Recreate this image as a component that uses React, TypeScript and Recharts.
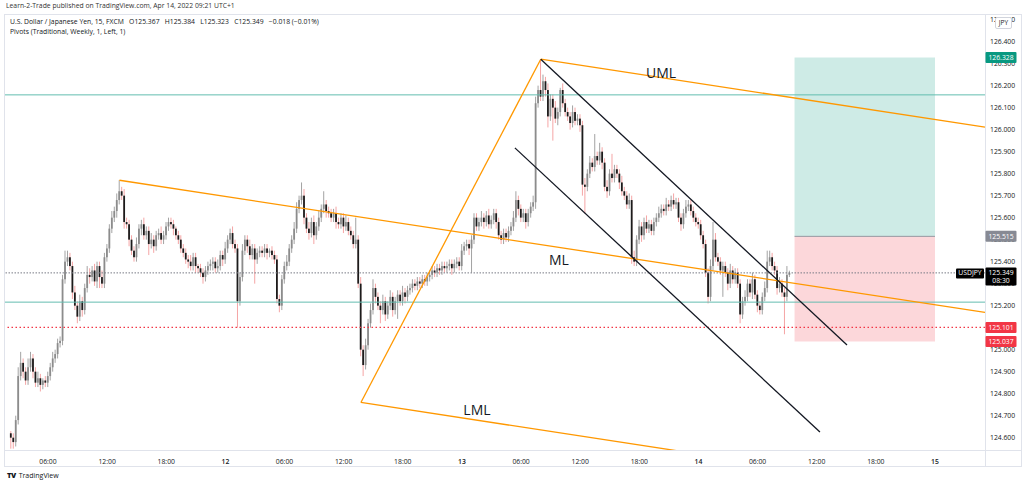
import {
  ComposedChart, Bar, XAxis, YAxis, ReferenceLine, ReferenceArea, ReferenceDot,
} from 'recharts';

// 15-minute USDJPY bars, bar index 0 = Apr 11 00:00, first drawn bar = 9
const FIRST_BAR = 9;
const FIRST_OPEN = 124.62;

const closes = [
  124.60, 124.58, 124.68, 124.88, 124.94, 124.90, 124.86, 124.92, 124.96, 124.90,
  124.85, 124.87, 124.84, 124.86, 124.85, 124.88, 124.92, 124.96, 124.98, 125.03,
  125.04, 125.32, 125.40, 125.42, 125.38, 125.26, 125.20, 125.15, 125.22, 125.18,
  125.28, 125.34, 125.33, 125.36, 125.31, 125.38, 125.33, 125.30, 125.42, 125.46,
  125.55, 125.60, 125.63, 125.68, 125.72, 125.70, 125.58, 125.57, 125.50, 125.45,
  125.42, 125.48, 125.55, 125.57, 125.52, 125.54, 125.48, 125.50, 125.47, 125.52,
  125.53, 125.50, 125.52, 125.56, 125.58, 125.57, 125.55, 125.52, 125.50, 125.46,
  125.44, 125.41, 125.40, 125.38, 125.42, 125.38, 125.37, 125.35, 125.33, 125.36,
  125.38, 125.39, 125.40, 125.37, 125.38, 125.43, 125.41, 125.46, 125.50, 125.53,
  125.48, 125.46, 125.22, 125.33, 125.45, 125.50, 125.47, 125.43, 125.46, 125.41,
  125.44, 125.45, 125.44, 125.46, 125.44, 125.45, 125.43, 125.41, 125.23, 125.20,
  125.32, 125.38, 125.40, 125.46, 125.50, 125.55, 125.64, 125.68, 125.70, 125.60,
  125.55, 125.53, 125.58, 125.52, 125.56, 125.60, 125.64, 125.66, 125.63, 125.62,
  125.60, 125.62, 125.58, 125.57, 125.60, 125.56, 125.58, 125.54, 125.52, 125.48,
  125.50, 125.30, 125.00, 124.93, 125.02, 125.12, 125.18, 125.28, 125.24, 125.20,
  125.18, 125.22, 125.16, 125.20, 125.24, 125.18, 125.22, 125.25, 125.22, 125.26,
  125.24, 125.27, 125.28, 125.30, 125.29, 125.31, 125.30, 125.32, 125.31, 125.33,
  125.34, 125.36, 125.35, 125.37, 125.36, 125.38, 125.37, 125.38, 125.39, 125.37,
  125.39, 125.40, 125.38, 125.45, 125.47, 125.48, 125.46, 125.50, 125.60, 125.56,
  125.58, 125.60, 125.58, 125.61, 125.57, 125.59, 125.62, 125.58, 125.52, 125.50,
  125.53, 125.51, 125.54, 125.56, 125.60, 125.68, 125.64, 125.60, 125.62, 125.58,
  125.62, 125.65, 125.67, 126.12, 126.18, 126.15, 126.22, 126.18, 126.06, 126.14,
  126.10, 126.05, 126.08, 126.18, 126.12, 126.08, 126.06, 126.03, 126.08, 126.04,
  126.05, 126.02, 125.75, 125.74, 125.80, 125.85, 125.83, 125.88, 125.86, 125.90,
  125.85, 125.74, 125.72, 125.80, 125.78, 125.82, 125.80, 125.76, 125.72, 125.70,
  125.66, 125.68, 125.42, 125.40, 125.50, 125.56, 125.52, 125.58, 125.55, 125.57,
  125.54, 125.58, 125.60, 125.62, 125.64, 125.63, 125.66, 125.65, 125.68, 125.66,
  125.67, 125.60, 125.57, 125.62, 125.65, 125.66, 125.63, 125.60, 125.58, 125.57,
  125.52, 125.48, 125.35, 125.24, 125.38, 125.50, 125.42, 125.40, 125.36, 125.38,
  125.35, 125.30, 125.36, 125.32, 125.35, 125.30, 125.16, 125.22, 125.24, 125.30,
  125.26, 125.32, 125.25, 125.20, 125.18, 125.24, 125.28, 125.40, 125.42, 125.38,
  125.36, 125.28, 125.30, 125.26, 125.24, 125.34, 125.349,
];

// wick lengths in pips (0.01) above the body / below the body
const wickUp = [
  1, 2, 2, 4, 5, 2, 2, 4, 3, 2,
  2, 3, 2, 1, 2, 2, 2, 3, 2, 2,
  2, 2, 5, 3, 2, 2, 3, 2, 3, 2,
  2, 4, 3, 2, 3, 2, 2, 3, 2, 2,
  2, 3, 2, 3, 5, 2, 3, 2, 2, 2,
  2, 3, 2, 2, 3, 2, 2, 3, 2, 2,
  2, 3, 2, 2, 2, 2, 2, 1, 2, 2,
  2, 2, 2, 3, 2, 2, 1, 2, 2, 2,
  2, 2, 2, 2, 3, 2, 2, 3, 2, 2,
  3, 2, 2, 2, 3, 2, 2, 3, 2, 2,
  2, 2, 2, 2, 2, 1, 2, 2, 2, 2,
  2, 2, 3, 2, 2, 3, 3, 2, 6, 3,
  2, 3, 2, 3, 2, 3, 2, 6, 2, 2,
  2, 2, 3, 2, 2, 2, 3, 2, 2, 2,
  10, 2, 3, 2, 3, 2, 3, 4, 2, 2,
  2, 3, 2, 2, 3, 2, 2, 2, 2, 3,
  2, 2, 2, 2, 2, 2, 2, 2, 2, 2,
  2, 2, 2, 2, 2, 2, 2, 2, 2, 2,
  2, 2, 2, 3, 2, 2, 2, 2, 2, 2,
  2, 3, 2, 2, 3, 2, 2, 2, 2, 2,
  2, 2, 2, 2, 3, 4, 2, 2, 2, 2,
  2, 2, 3, 3, 2, 14, 3, 2, 3, 2,
  2, 3, 2, 1, 3, 2, 2, 2, 3, 2,
  2, 2, 2, 3, 2, 3, 2, 10, 2, 4,
  2, 2, 3, 2, 9, 2, 2, 2, 3, 2,
  2, 3, 2, 3, 2, 3, 2, 2, 3, 2,
  2, 2, 2, 3, 2, 2, 3, 2, 2, 3,
  2, 2, 2, 2, 3, 2, 2, 2, 2, 2,
  2, 2, 2, 2, 3, 8, 3, 2, 2, 2,
  2, 2, 3, 2, 2, 2, 2, 2, 3, 2,
  2, 3, 2, 2, 2, 2, 3, 5, 3, 2,
  2, 2, 3, 2, 2, 4, 1,
];

const wickDn = [
  5, 3, 2, 2, 2, 3, 2, 2, 2, 3,
  2, 2, 3, 2, 2, 2, 2, 2, 2, 2,
  2, 2, 2, 2, 2, 3, 2, 3, 2, 3,
  2, 2, 3, 2, 2, 3, 5, 2, 2, 2,
  2, 2, 2, 3, 2, 2, 3, 2, 3, 2,
  2, 2, 2, 3, 2, 2, 5, 2, 3, 2,
  2, 2, 2, 2, 2, 2, 3, 2, 2, 2,
  2, 2, 3, 2, 2, 3, 2, 2, 3, 2,
  2, 2, 3, 2, 2, 2, 3, 2, 2, 2,
  2, 2, 12, 2, 2, 2, 3, 2, 2, 11,
  2, 2, 2, 2, 3, 2, 2, 2, 2, 3,
  2, 2, 2, 2, 2, 2, 2, 2, 2, 3,
  2, 3, 2, 4, 2, 2, 2, 2, 3, 2,
  2, 2, 3, 2, 2, 3, 2, 2, 2, 2,
  2, 2, 3, 5, 2, 2, 2, 2, 3, 2,
  6, 2, 3, 2, 2, 3, 2, 8, 2, 2,
  3, 2, 2, 2, 2, 2, 2, 2, 2, 2,
  2, 2, 2, 2, 2, 2, 2, 2, 2, 3,
  2, 2, 2, 2, 2, 2, 3, 11, 2, 2,
  2, 2, 3, 2, 2, 2, 2, 3, 2, 2,
  2, 2, 2, 2, 2, 2, 3, 2, 2, 3,
  2, 2, 2, 3, 2, 2, 2, 3, 5, 2,
  15, 2, 3, 2, 2, 2, 2, 3, 2, 2,
  2, 3, 5, 12, 2, 2, 2, 2, 2, 2,
  3, 2, 3, 2, 2, 2, 2, 3, 2, 2,
  2, 2, 3, 2, 2, 2, 3, 2, 2, 2,
  2, 2, 2, 2, 2, 2, 2, 2, 2, 2,
  2, 2, 3, 2, 2, 2, 2, 2, 2, 2,
  2, 2, 2, 3, 2, 2, 2, 2, 2, 12,
  2, 3, 2, 2, 2, 2, 4, 2, 2, 2,
  2, 3, 2, 3, 2, 2, 2, 2, 2, 2,
  2, 3, 2, 2, 17, 2, 1,
];

// time axis
const timeTicks = [24, 48, 72, 96, 120, 144, 168, 192, 216, 240, 264, 288, 312, 336, 360, 384];
const timeLabels = ['06:00', '12:00', '18:00', '12', '06:00', '12:00', '18:00', '13',
  '06:00', '12:00', '18:00', '14', '06:00', '12:00', '18:00', '15'];
const priceTicks = [124.6, 124.7, 124.8, 124.9, 125.0, 125.1, 125.2, 125.3, 125.4,
  125.5, 125.6, 125.7, 125.8, 125.9, 126.0, 126.1, 126.2, 126.3, 126.4, 126.5];

// drawings (bar index, price)
const pitchP1 = { t: 53, p: 125.77 };
const pitchP2 = { t: 224, p: 126.32 };
const pitchP3 = { t: 151, p: 124.76 };
const channelTop = [{ t: 224, p: 126.32 }, { t: 348.3, p: 125.021 }];
const channelBot = [{ t: 213.5, p: 125.917 }, { t: 337.3, p: 124.626 }];
const pivotLevels = [126.158, 125.216];
const lastPrice = 125.349;
const stopLevel = 125.101;
const position = { from: 327, to: 384, target: 126.328, entry: 125.515, stop: 125.037 };
const pitchLabels = [
  { text: 'UML', t: 272.8, p: 126.258 },
  { text: 'ML', t: 231.4, p: 125.408 },
  { text: 'LML', t: 198.1, p: 124.726 },
];

const X_MIN = 6.55;
const X_MAX = 404.3;
const Y_MIN = 124.544;
const Y_MAX = 126.521;

const FONT = '"Open Sans", "Noto Sans", sans-serif';
const ORANGE = '#ff9800';
const MARGIN = { top: 15, right: 0, left: 5, bottom: 20 };

const data = closes.map((c, k) => {
  const o = k === 0 ? FIRST_OPEN : closes[k - 1];
  const hi = Math.max(o, c) + wickUp[k] * 0.01;
  const lo = Math.min(o, c) - wickDn[k] * 0.01;
  return { t: FIRST_BAR + k, o, c, hi, lo, range: [lo, hi] };
});

function Candle(props: any) {
  const { x, y, width, height, payload } = props;
  if (x == null || y == null) return null;
  const { o, c, hi, lo } = payload;
  const top = Math.min(y, y + height);
  const h = Math.abs(height);
  const py = (v: number) => top + ((hi - v) / (hi - lo)) * h;
  const cx = x + width / 2;
  const up = c >= o;
  const bTop = py(Math.max(o, c));
  const bH = Math.max(1, py(Math.min(o, c)) - bTop);
  return (
    <g>
      <line x1={cx} x2={cx} y1={top} y2={top + h} stroke={up ? '#a3a3a3' : '#f5a5a5'} strokeWidth={1} />
      <rect x={cx - 0.9} y={bTop} width={1.8} height={bH} fill={up ? '#8c8c8c' : '#1c1c1c'} />
    </g>
  );
}

function Tag(props: any) {
  const { viewBox, text, bg, sub } = props;
  if (!viewBox) return null;
  const x = viewBox.x + viewBox.width + 0.5;
  const y = viewBox.y;
  return (
    <g fontFamily={FONT}>
      <rect x={x} y={y - 5.5} width={31} height={sub ? 18 : 11} fill={bg} rx={1} />
      <text x={x + 15.5} y={y + 2.4} textAnchor="middle" fontSize={6.8} fill="#fff">{text}</text>
      {sub && <text x={x + 15.5} y={y + 10.6} textAnchor="middle" fontSize={6.8} fill="#fff">{sub}</text>}
    </g>
  );
}

function LastTag(props: any) {
  const { viewBox } = props;
  if (!viewBox) return null;
  const x = viewBox.x + viewBox.width;
  const y = viewBox.y;
  return (
    <g fontFamily={FONT}>
      <rect x={x - 29} y={y - 4.5} width={28} height={10} fill="#000" rx={1} />
      <text x={x - 15} y={y + 2.6} textAnchor="middle" fontSize={6.8} fill="#fff">USDJPY</text>
    </g>
  );
}

function TimeTick(props: any) {
  const { x, y, payload } = props;
  const i = timeTicks.indexOf(payload.value);
  const label = timeLabels[i] ?? '';
  const isDay = label.indexOf(':') < 0;
  return (
    <text x={x} y={y + 6} textAnchor="middle" fontSize={6.8} fontFamily={FONT}
      fill="#131722" fontWeight={isDay ? 600 : 400}>{label}</text>
  );
}

// extend a pitchfork line (parallel to the median) to the right edge
const midT = (pitchP2.t + pitchP3.t) / 2;
const midP = (pitchP2.p + pitchP3.p) / 2;
const slope = (midP - pitchP1.p) / (midT - pitchP1.t);
const toEdge = (pt: { t: number; p: number }) => ({ x: X_MAX, y: pt.p + slope * (X_MAX - pt.t) });

export default function App() {
  return (
    <div style={{ position: 'absolute', left: 0, top: 0, width: 1024, height: 485, background: '#fff', fontFamily: FONT, overflow: 'hidden' }}>
      <div style={{ position: 'absolute', left: 6, top: 1, fontSize: 6.8, color: '#333' }}>
        Learn-2-Trade published on TradingView.com, Apr 14, 2022 09:21 UTC+1
      </div>
      <div style={{ position: 'absolute', left: 4, top: 14, width: 1016, height: 451, border: '1px solid #e0e3eb' }} />
      <div style={{ position: 'absolute', left: 4, top: 450, width: 1017, height: 1, background: '#e0e3eb' }} />
      <div style={{ position: 'absolute', left: 985, top: 14, width: 1, height: 452, background: '#e0e3eb' }} />

      {/* price chart */}
      <div style={{ position: 'absolute', left: 0, top: 0 }}>
        <ComposedChart width={1024} height={485} data={data} margin={MARGIN}>
          <XAxis dataKey="t" type="number" domain={[X_MIN, X_MAX]} allowDataOverflow
            ticks={timeTicks} tick={<TimeTick />} tickLine={false} axisLine={false} height={15} interval={0} />
          <YAxis orientation="right" type="number" domain={[Y_MIN, Y_MAX]} allowDataOverflow
            ticks={priceTicks} tickFormatter={(v: number) => v.toFixed(3)} tickLine={false} axisLine={false}
            tickSize={0} tickMargin={5} width={39} interval={0}
            tick={{ fontSize: 6.8, fill: '#131722', fontFamily: FONT }} />

          <ReferenceArea x1={position.from} x2={position.to} y1={position.entry} y2={position.target}
            fill="#089981" fillOpacity={0.2} stroke="none" />
          <ReferenceArea x1={position.from} x2={position.to} y1={position.stop} y2={position.entry}
            fill="#f23645" fillOpacity={0.2} stroke="none" />
          <ReferenceLine segment={[{ x: position.from, y: position.entry }, { x: position.to, y: position.entry }]}
            stroke="#9598a1" strokeWidth={1} />

          {pivotLevels.map((lv) => (
            <ReferenceLine key={lv} y={lv} stroke="#63bdb0" strokeWidth={1} />
          ))}
          <ReferenceLine y={stopLevel} stroke="#f23645" strokeWidth={1.2} strokeDasharray="1.5 2.5" />
          <ReferenceLine y={lastPrice} stroke="#787b86" strokeWidth={1} strokeDasharray="1.5 1.5" />

          <Bar dataKey="range" barSize={2} shape={<Candle />} isAnimationActive={false} />

          <ReferenceLine segment={[{ x: pitchP3.t, y: pitchP3.p }, { x: pitchP2.t, y: pitchP2.p }]}
            stroke={ORANGE} strokeWidth={1.3} ifOverflow="hidden" />
          <ReferenceLine segment={[{ x: pitchP1.t, y: pitchP1.p }, toEdge(pitchP1)]}
            stroke={ORANGE} strokeWidth={1.3} ifOverflow="hidden" />
          <ReferenceLine segment={[{ x: pitchP2.t, y: pitchP2.p }, toEdge(pitchP2)]}
            stroke={ORANGE} strokeWidth={1.3} ifOverflow="hidden" />
          <ReferenceLine segment={[{ x: pitchP3.t, y: pitchP3.p }, toEdge(pitchP3)]}
            stroke={ORANGE} strokeWidth={1.3} ifOverflow="hidden" />

          <ReferenceLine segment={[{ x: channelTop[0].t, y: channelTop[0].p }, { x: channelTop[1].t, y: channelTop[1].p }]}
            stroke="#131722" strokeWidth={1.3} ifOverflow="hidden" />
          <ReferenceLine segment={[{ x: channelBot[0].t, y: channelBot[0].p }, { x: channelBot[1].t, y: channelBot[1].p }]}
            stroke="#131722" strokeWidth={1.3} ifOverflow="hidden" />

          {pitchLabels.map((l) => (
            <ReferenceDot key={l.text} x={l.t} y={l.p} r={0} fill="none" stroke="none"
              label={{ value: l.text, position: 'center', fill: '#131722', fontSize: 14, fontFamily: FONT }} />
          ))}
        </ComposedChart>
      </div>

      {/* price tags on the scale, drawn above the tick labels */}
      <div style={{ position: 'absolute', left: 0, top: 0 }}>
        <ComposedChart width={1024} height={485} data={data} margin={MARGIN}>
          <XAxis dataKey="t" type="number" domain={[X_MIN, X_MAX]} allowDataOverflow
            tick={false} tickLine={false} axisLine={false} height={15} />
          <YAxis orientation="right" type="number" domain={[Y_MIN, Y_MAX]} allowDataOverflow
            tick={false} tickLine={false} axisLine={false} width={39} />
          <ReferenceLine y={position.target} stroke="none" label={<Tag text={position.target.toFixed(3)} bg="#089981" />} />
          <ReferenceLine y={position.entry} stroke="none" label={<Tag text={position.entry.toFixed(3)} bg="#878a94" />} />
          <ReferenceLine y={stopLevel} stroke="none" label={<Tag text={stopLevel.toFixed(3)} bg="#f23645" />} />
          <ReferenceLine y={position.stop} stroke="none" label={<Tag text={position.stop.toFixed(3)} bg="#f23645" />} />
          <ReferenceLine y={lastPrice} stroke="none" label={<Tag text={lastPrice.toFixed(3)} bg="#000" sub="08:30" />} />
          <ReferenceLine y={lastPrice} stroke="none" label={<LastTag />} />
        </ComposedChart>
      </div>

      <div style={{ position: 'absolute', left: 10, top: 17, fontSize: 6.8, color: '#131722', whiteSpace: 'pre' }}>
        {'U.S. Dollar / Japanese Yen, 15, FXCM   O125.367   H125.384   L125.323   C125.349   \u22120.018 (\u22120.01%)'}
      </div>
      <div style={{ position: 'absolute', left: 10, top: 27, fontSize: 6.8, color: '#131722' }}>
        Pivots (Traditional, Weekly, 1, Left, 1)
      </div>
      <div style={{ position: 'absolute', left: 995, top: 17, width: 15, height: 10, background: '#fff', border: '1px solid #d1d4dc', borderRadius: 2, fontSize: 6.5, color: '#131722', textAlign: 'center', lineHeight: '10px' }}>
        JPY
      </div>
      <div style={{ position: 'absolute', left: 7, top: 470, fontSize: 7, color: '#131722', display: 'flex', alignItems: 'center' }}>
        <span style={{ fontWeight: 900, fontSize: 7.5, marginRight: 3, letterSpacing: -0.5 }}>TV</span>
        <span>TradingView</span>
      </div>
    </div>
  );
}
